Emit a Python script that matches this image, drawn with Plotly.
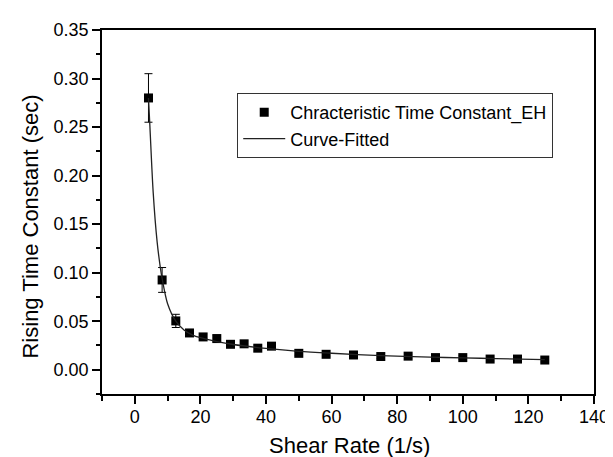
import plotly.graph_objects as go

# Measured data
shear_rate = [4.17, 8.33, 12.5, 16.67, 20.83, 25.0, 29.17, 33.33, 37.5, 41.67,
              50.0, 58.33, 66.67, 75.0, 83.33, 91.67, 100.0, 108.33, 116.67, 125.0]
time_const = [0.280, 0.0925, 0.0503, 0.0379, 0.0338, 0.0321, 0.0262, 0.0267, 0.0222, 0.0243,
              0.0169, 0.0159, 0.0152, 0.0136, 0.0140, 0.0125, 0.0125, 0.0110, 0.0110, 0.0100]
time_err = [0.025, 0.0128, 0.0068, 0.0035, 0.003, 0.0035, 0.003, 0.003, 0.003, 0.003,
            0.002, 0.002, 0.002, 0.002, 0.002, 0.002, 0.002, 0.002, 0.002, 0.002]

# Fitted curve
fit_x = [4.17, 4.6, 5.6, 6.8, 7.8, 8.33, 10.0, 12.5, 15.0, 17.5, 20.0, 25.0, 30.0,
         40.0, 50.0, 60.0, 75.0, 90.0, 100.0, 110.0, 125.0]
fit_y = [0.280, 0.251, 0.183, 0.132, 0.105, 0.094, 0.068, 0.050, 0.041, 0.036, 0.033,
         0.029, 0.026, 0.022, 0.019, 0.017, 0.0145, 0.013, 0.0122, 0.0115, 0.0105]

x_ticks = [0, 20, 40, 60, 80, 100, 120, 140]
y_ticks = [0.00, 0.05, 0.10, 0.15, 0.20, 0.25, 0.30, 0.35]

FONT = "Arial, Liberation Sans, sans-serif"

fig = go.Figure()
fig.add_trace(go.Scatter(
    x=shear_rate, y=time_const, mode="markers",
    name="Chracteristic Time Constant_EH",
    marker=dict(symbol="square", size=9, color="black"),
    error_y=dict(type="data", array=time_err, visible=True, color="black",
                 thickness=1, width=4),
))
fig.add_trace(go.Scatter(
    x=fit_x, y=fit_y, mode="lines", name="Curve-Fitted",
    line=dict(color="#222222", width=1.3, shape="spline", smoothing=0.8),
))

axis_common = dict(
    showline=True, linecolor="black", linewidth=1.5, mirror=True,
    ticks="outside", ticklen=8, tickwidth=1.5, tickcolor="black",
    showgrid=False, zeroline=False,
    tickfont=dict(family=FONT, size=18, color="black"),
)
fig.update_xaxes(range=[-10, 140], tickvals=x_ticks, ticktext=[str(v) for v in x_ticks],
                 ticklabelstandoff=-2,
                 minor=dict(dtick=10, tick0=0, ticks="outside", ticklen=5, tickwidth=1.5,
                            tickcolor="black", showgrid=False),
                 **axis_common)
fig.update_yaxes(range=[-0.025, 0.35], tickvals=y_ticks,
                 ticktext=[f"{v:.2f}" for v in y_ticks],
                 minor=dict(dtick=0.025, tick0=0, ticks="outside", ticklen=4, tickwidth=1.5,
                            tickcolor="black", showgrid=False),
                 **axis_common)

fig.add_annotation(text="Shear Rate (1/s)", xref="paper", yref="paper",
                   x=(346 - 94) / 501, y=(386 - 438) / 371, xanchor="center", yanchor="middle",
                   showarrow=False, font=dict(family=FONT, size=22, color="black"))
fig.add_annotation(text="Rising Time Constant (sec)", xref="paper", yref="paper",
                   x=(21 - 94) / 501, y=(386 - 215) / 371, xanchor="center", yanchor="middle",
                   textangle=-90, showarrow=False, font=dict(family=FONT, size=22, color="black"))

fig.update_layout(
    width=613, height=457,
    margin=dict(l=94, r=18, t=15, b=71),
    paper_bgcolor="white", plot_bgcolor="white",
    showlegend=True,
    legend=dict(x=(231.7 - 94) / 501, y=(386 - 79.3) / 371, xanchor="left", yanchor="top",
                bordercolor="#333333", borderwidth=1, bgcolor="white",
                font=dict(family=FONT, size=18, color="black"),
                itemwidth=42, tracegroupgap=0),
)

fig.write_html("out.html")
